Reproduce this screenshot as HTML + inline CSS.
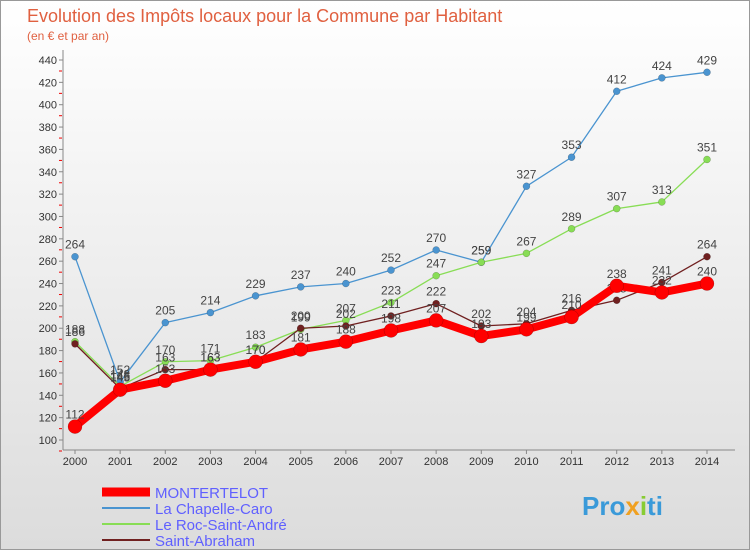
<!DOCTYPE html>
<html><head><meta charset="utf-8"><style>
body{margin:0;width:750px;height:550px;overflow:hidden;font-family:"Liberation Sans",sans-serif;}
</style></head><body>
<svg width="750" height="550" viewBox="0 0 750 550" xmlns="http://www.w3.org/2000/svg">
<defs><linearGradient id="bg" x1="0" y1="0" x2="0" y2="1"><stop offset="0" stop-color="#ffffff"/><stop offset="1" stop-color="#dcdcdc"/></linearGradient></defs>
<rect x="0.5" y="0.5" width="749" height="549" fill="url(#bg)" stroke="#999"/>
<text x="27" y="22" font-size="18" fill="#e06040">Evolution des Impôts locaux pour la Commune par Habitant</text>
<text x="27" y="40" font-size="12" fill="#e06040">(en € et par an)</text>
<g id="axes"></g>
<g id="series"></g>
<g id="legend" font-size="15">
<line x1="102" y1="492" x2="150" y2="492" stroke="#ff0000" stroke-width="9"/>
<text x="155" y="498" fill="#6060ff">MONTERTELOT</text>
<line x1="102" y1="508" x2="150" y2="508" stroke="#4a94d0" stroke-width="2"/>
<text x="155" y="514" fill="#6060ff">La Chapelle-Caro</text>
<line x1="102" y1="524" x2="150" y2="524" stroke="#88dd55" stroke-width="2"/>
<text x="155" y="530" fill="#6060ff">Le Roc-Saint-André</text>
<line x1="102" y1="540" x2="150" y2="540" stroke="#702020" stroke-width="2"/>
<text x="155" y="546" fill="#6060ff">Saint-Abraham</text>
</g>
<text x="582" y="515" font-size="26" font-weight="bold" fill="#3a9ad9">Pro<tspan fill="#f0a020">x</tspan><tspan fill="#88cc33">i</tspan>ti</text>
</svg>
<script>
const years=[2000,2001,2002,2003,2004,2005,2006,2007,2008,2009,2010,2011,2012,2013,2014];
const yTicks=[100,120,140,160,180,200,220,240,260,280,300,320,340,360,380,400,420,440];
const montertelot=[112,145,153,163,170,181,188,198,207,193,199,210,238,232,240];
const chapelle=[264,152,205,214,229,237,240,252,270,259,327,353,412,424,429];
const roc=[188,148,170,171,183,199,207,223,247,259,267,289,307,313,351];
const abraham=[186,146,163,163,170,200,202,211,222,202,204,216,225,241,264];
const NS='http://www.w3.org/2000/svg';
const X0=75,X1=707,Y0=440,Y1=60,VMIN=100,VMAX=440;
function xs(i){return X0+(X1-X0)*i/(years.length-1);}
function ys(v){return Y0-(v-VMIN)*(Y0-Y1)/(VMAX-VMIN);}
function mk(t,a,p){const e=document.createElementNS(NS,t);for(const k in a)e.setAttribute(k,a[k]);p.appendChild(e);return e;}
const ax=document.getElementById('axes');
const yaxis=mk('line',{x1:63,y1:50,x2:63,y2:450,stroke:'#888'},ax);


const xaxis=mk('line',{x1:63,y1:450,x2:735,y2:450,stroke:'#888'},ax);


yTicks.forEach(v=>{const y=ys(v);
mk('line',{x1:59,y1:y,x2:63,y2:y,stroke:'#888'},ax);
mk('line',{x1:59,y1:y+11,x2:62,y2:y+11,stroke:'#e00'},ax);
const t=mk('text',{x:57,y:y+4,'font-size':11,'text-anchor':'end',fill:'#333'},ax);t.textContent=v;

});
years.forEach((yr,i)=>{const x=xs(i);
mk('line',{x1:x,y1:450,x2:x,y2:454,stroke:'#888'},ax);
const t=mk('text',{x:x,y:465,'font-size':11,'text-anchor':'middle',fill:'#333'},ax);t.textContent=yr;

});
const sg=document.getElementById('series');
function series(vals,color,w,r,name){
const g=mk('g',{},sg);


mk('polyline',{points:vals.map((v,i)=>xs(i)+','+ys(v)).join(' '),fill:'none',stroke:color,'stroke-width':w,'stroke-linejoin':'round'},g);
vals.forEach((v,i)=>{const c=mk('circle',{cx:xs(i),cy:ys(v),r:r,fill:color,stroke:'rgba(0,0,0,0.3)','stroke-width':0.5},g);


const t=mk('text',{x:xs(i),y:ys(v)-8,'font-size':12,'text-anchor':'middle',fill:'#444'},g);t.textContent=v;

});}
series(chapelle,'#4a94d0',1.3,3.5,'la-chapelle-caro');
series(roc,'#88dd55',1.3,3.5,'le-roc-saint-andre');
series(abraham,'#702020',1.3,3.5,'saint-abraham');
series(montertelot,'#ff0000',8,7,'montertelot');
</script>
</body></html>
